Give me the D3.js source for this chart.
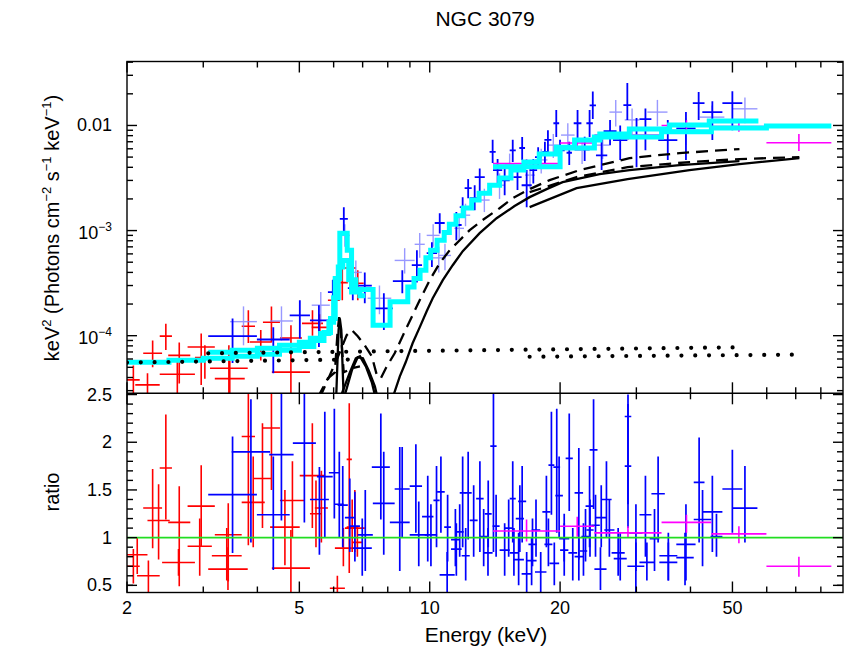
<!DOCTYPE html>
<html><head><meta charset="utf-8">
<script src="https://cdn.jsdelivr.net/npm/d3@7"></script>
<style>body{margin:0;background:#fff}svg{display:block}text{font-family:"Liberation Sans",Arial,Helvetica,sans-serif;fill:#000}</style>
</head><body>
<svg id="c" width="845" height="648"></svg>
<script>
// ---------------- DATA ----------------
// [Elo, Ehi, value, lowErr, highErr]  (keV, keV^2 photons cm^-2 s^-1 keV^-1)
const xmmTop = [
[2.00,2.14,3.8e-5,2.6e-5,5.2e-5],[2.09,2.38,3.4e-5,2.5e-5,4.4e-5],[2.18,2.41,6.8e-5,5.0e-5,9.0e-5],
[2.38,2.54,9.9e-5,7.3e-5,1.3e-4],[2.49,2.80,6.5e-5,3.5e-5,8.6e-5],[2.38,2.87,4.3e-5,2.5e-5,5.8e-5],
[2.76,3.19,7.8e-5,3.4e-5,1.05e-4],[2.87,3.19,6.2e-5,3.9e-5,8.1e-5],[3.11,3.80,4.9e-5,2.5e-5,8.1e-5],
[3.19,3.74,3.9e-5,2.5e-5,5.8e-5],[3.68,3.95,1.23e-4,8.5e-5,1.75e-4],[3.84,4.32,8.7e-5,5.8e-5,1.13e-4],
[4.12,4.51,1.34e-4,8.7e-5,1.9e-4],[4.32,5.29,4.5e-5,2.5e-5,7.3e-5],[4.51,5.07,9.5e-5,7.3e-5,1.26e-4],
[5.07,5.67,1.31e-4,1.0e-4,1.75e-4],[5.34,5.82,1.2e-4,8.7e-5,1.6e-4],[5.82,6.20,2.17e-4,1.4e-4,3.4e-4],
[6.10,6.47,3.2e-4,2.17e-4,4.7e-4],[6.37,6.75,4.4e-4,2.7e-4,6.5e-4],[6.61,7.04,3.15e-4,2.17e-4,4.2e-4]
];
const fpmaTop = [
[3.08,3.99,9.9e-5,5.5e-5,1.46e-4],[3.99,4.75,9.2e-5,4.4e-5,1.2e-4],[4.75,5.29,1.56e-4,9.4e-5,2.17e-4],
[5.29,5.82,1.4e-4,7.8e-5,1.95e-4],[5.82,6.13,2.6e-4,1.86e-4,3.4e-4],[6.20,6.47,1.29e-3,9.4e-4,1.67e-3],
[6.47,6.82,2.83e-4,2.17e-4,3.76e-4],[6.82,7.35,3.0e-4,2.03e-4,4.0e-4],[7.47,8.22,1.82e-4,1.13e-4,2.53e-4],
[8.22,9.09,3.3e-4,2.53e-4,4.2e-4],[9.09,9.60,4.7e-4,3.2e-4,6.5e-4],[9.84,10.4,6.1e-4,4.5e-4,7.75e-4],
[10.27,10.83,1.18e-3,9.4e-4,1.46e-3],[11.2,11.85,1.13e-3,8.1e-4,1.5e-3],[11.73,12.1,1.67e-3,1.34e-3,2.07e-3],
[12.04,12.5,2.53e-3,2.03e-3,3.1e-3],[12.7,13.4,3.23e-3,2.3e-3,3.9e-3],[12.37,13.04,2.03e-3,1.56e-3,2.7e-3],
[13.75,14.2,5.6e-3,4.4e-3,7.3e-3],[14.0,14.7,3.76e-3,2.8e-3,4.8e-3],[14.5,15.3,3.0e-3,2.17e-3,3.9e-3],
[15.3,15.8,5.8e-3,4.5e-3,7.3e-3],[15.6,16.3,3.23e-3,2.43e-3,4.2e-3],[16.1,16.6,6.1e-3,4.7e-3,7.75e-3],
[16.3,17.2,2.7e-3,1.67e-3,3.76e-3],[17.0,17.7,3.76e-3,2.8e-3,4.8e-3],[17.5,18.1,5.0e-3,3.9e-3,6.2e-3],
[18.2,18.7,5.6e-3,4.3e-3,7.0e-3],[18.4,19.1,7.3e-3,5.5e-3,9.0e-3],[19.3,19.9,1.05e-2,7.75e-3,1.4e-2],
[19.5,20.5,5.8e-3,4.4e-3,7.3e-3],[20.7,21.3,5.5e-3,4.2e-3,7.0e-3],[21.5,22.4,1.05e-2,7.6e-3,1.4e-2],
[22.2,23.4,6.1e-3,4.6e-3,7.8e-3],[23.0,23.8,1.05e-2,7.75e-3,1.4e-2],[23.4,24.2,1.55e-2,1.15e-2,2.1e-2],
[24.2,25.7,5.2e-3,3.76e-3,7.3e-3],[25.2,27.0,8.85e-3,6.5e-3,1.13e-2],[26.5,28.6,7.26e-3,4.7e-3,1.0e-2],
[28.0,29.2,1.56e-2,1.13e-2,2.53e-2],[28.9,31.2,7.75e-3,4.0e-3,1.18e-2],[30.5,32.5,1.15e-2,5.8e-3,1.45e-2],
[33.7,37.3,7.26e-3,4.7e-3,1.13e-2],[37.1,41.1,9.4e-3,4.7e-3,1.34e-2],[40.5,43.1,1.63e-2,1.13e-2,2.08e-2],
[42.6,47.4,1.34e-2,7.26e-3,1.7e-2],[47.4,52.7,1.63e-2,9.0e-3,2.12e-2]
];
const fpmbTop = [
[3.46,3.99,1.36e-4,8.1e-5,1.9e-4],[4.28,4.83,1.38e-4,9.0e-5,1.9e-4],[5.34,5.88,1.95e-4,1.3e-4,2.6e-4],
[6.20,6.54,9.0e-4,7.0e-4,1.15e-3],[6.54,6.97,4.0e-4,3.0e-4,5.2e-4],[7.19,8.15,2.27e-4,1.6e-4,3.0e-4],
[8.30,9.23,5.2e-4,3.9e-4,6.8e-4],[9.23,9.74,7.4e-4,5.5e-4,9.5e-4],[9.84,10.54,9.0e-4,7.0e-4,1.15e-3],
[10.1,10.9,5.5e-4,4.0e-4,7.0e-4],[10.5,11.2,5.8e-4,4.2e-4,7.5e-4],[11.4,12.0,1.05e-3,8.0e-4,1.35e-3],
[11.8,12.4,1.4e-3,1.1e-3,1.8e-3],[13.0,13.75,1.95e-3,1.5e-3,2.5e-3],[14.1,14.9,2.7e-3,2.0e-3,3.5e-3],
[14.9,15.7,4.2e-3,3.2e-3,5.4e-3],[16.6,17.5,3.37e-3,2.5e-3,4.4e-3],[17.5,18.7,4.7e-3,3.5e-3,6.0e-3],
[18.7,19.9,6.5e-3,4.9e-3,8.3e-3],[20.1,21.6,8.1e-3,6.2e-3,1.05e-2],[21.6,23.4,5.8e-3,4.3e-3,7.6e-3],
[24.2,26.0,6.5e-3,4.8e-3,8.5e-3],[26.0,27.8,1.34e-2,9.8e-3,1.75e-2],[28.2,30.5,1.13e-2,8.2e-3,1.45e-2],
[31.8,35.4,1.34e-2,9.8e-3,1.75e-2],[36.2,42.0,9.0e-3,6.5e-3,1.18e-2],[42.0,47.9,1.2e-2,8.8e-3,1.55e-2],
[50.0,57.1,1.44e-2,1.05e-2,1.85e-2]
];
const batTop = [
[14.0,20.0,4.33e-3,3.9e-3,4.8e-3],[20.0,24.0,6.8e-3,6.1e-3,7.5e-3],[24.0,34.3,8.1e-3,7.3e-3,9.0e-3],
[34.3,44.7,1.0e-2,8.9e-3,1.12e-2],[44.7,59.9,9.76e-3,8.7e-3,1.08e-2],[59.9,84.6,6.84e-3,5.7e-3,8.3e-3]
];
// ratio panel: [Elo, Ehi, ratio, low, high]
const xmmRatio = [
[2.00,2.23,0.82,0.62,1.00],[2.00,2.14,0.70,0.52,0.88],[2.11,2.38,0.60,0.42,0.76],[2.18,2.41,1.31,0.89,1.72],
[2.23,2.51,1.18,0.77,1.56],[2.38,2.54,1.73,1.19,2.29],[2.49,2.80,1.16,0.49,1.54],[2.41,2.87,0.74,0.60,0.88],
[2.76,3.19,1.33,0.91,1.76],[2.76,3.14,0.91,0.60,1.20],[3.19,3.68,1.03,0.54,1.36],[3.14,3.68,0.81,0.55,1.10],
[3.08,3.80,0.67,0.45,0.90],[3.68,3.95,2.06,0.92,2.60],[3.68,4.16,1.37,0.90,1.85],[3.91,4.32,1.62,1.10,2.20],
[4.12,4.51,2.15,1.50,2.70],[4.28,5.01,1.11,0.71,1.50],[4.32,5.29,0.68,0.42,1.08],[4.51,5.15,1.39,1.00,1.80],
[5.01,5.73,1.65,1.10,2.20],[5.29,5.64,1.25,0.90,1.60],[5.43,5.82,1.31,0.95,1.70],[5.88,6.37,0.47,0.35,0.60],
[6.04,6.61,0.89,0.70,1.10],[6.43,6.61,1.82,0.63,2.41],[6.43,6.82,1.11,0.85,1.40],[6.37,7.08,1.10,0.85,1.50],
[6.61,7.01,0.95,0.80,1.12]
];
const nuRatio = [
[3.08,3.99,1.45,0.84,2.06],[3.49,4.28,1.90,0.95,2.45],[3.99,4.75,1.24,0.66,1.85],[4.26,4.85,1.87,1.18,2.55],
[4.83,5.46,1.99,1.16,2.55],[5.29,5.85,1.40,0.82,1.74],[5.49,5.97,1.64,1.00,2.32],[5.85,6.20,1.68,1.20,2.35],
[6.04,6.33,1.35,1.00,1.90],[6.13,6.47,1.34,0.90,1.75],[6.37,6.71,1.21,0.85,1.62],[6.54,6.90,1.12,0.75,1.48],
[6.82,7.39,1.03,0.65,1.50],[6.64,7.35,0.89,0.60,1.20],[7.35,8.09,1.74,1.19,2.30],[7.39,8.30,1.36,0.82,1.90],
[8.09,8.99,1.16,0.65,1.95],[8.30,8.99,1.51,1.00,1.95],[8.99,9.60,1.54,1.05,1.98],[8.99,9.90,1.03,0.70,1.38],
[9.60,10.2,1.22,0.75,1.65],[9.74,10.4,1.03,0.70,1.35],[10.2,10.54,1.39,0.90,1.75],[10.4,10.83,1.48,1.05,1.85],
[10.8,11.2,1.11,0.75,1.45],[10.54,11.42,0.61,0.30,0.85],[11.2,11.73,0.98,0.70,1.30],[11.2,11.85,0.88,0.60,1.15],
[11.48,11.98,1.06,0.80,1.35],[11.73,12.1,1.47,0.90,1.85],[11.85,12.37,0.81,0.55,1.10],[12.04,12.5,1.47,0.98,1.90],
[12.37,12.9,1.18,0.80,1.55],[12.8,13.32,1.41,0.85,1.80],[13.04,13.61,1.01,0.70,1.30],[13.4,13.9,1.25,0.90,1.60],
[13.3,13.97,0.84,0.60,1.10],[13.8,14.27,1.96,0.85,2.52],[13.97,14.5,1.12,0.80,1.45],[14.5,15.3,0.87,0.60,1.15],
[14.9,15.54,1.10,0.80,1.40],[15.3,15.8,1.41,0.95,1.80],[15.3,16.0,0.84,0.60,1.10],[15.8,16.5,1.20,0.85,1.55],
[16.0,16.7,1.38,0.95,1.75],[15.6,16.5,0.77,0.50,1.05],[16.3,17.2,0.62,0.43,0.85],[16.74,17.65,0.76,0.50,1.00],
[16.9,17.65,0.93,0.70,1.20],[17.2,18.0,1.08,0.80,1.40],[17.5,18.6,0.64,0.43,0.85],[18.2,19.0,1.27,0.90,1.65],
[18.4,19.2,0.93,0.70,1.20],[18.8,19.4,1.76,1.24,2.32],[18.9,19.9,0.73,0.50,0.95],[19.3,20.0,1.74,1.05,2.35],
[19.5,20.3,1.44,1.00,1.85],[19.9,21.0,0.99,0.75,1.25],[20.0,20.9,0.87,0.60,1.15],[20.6,21.4,1.83,1.28,2.30],
[20.9,21.9,0.84,0.55,1.10],[21.6,22.6,1.47,0.77,1.94],[21.6,22.6,0.80,0.55,1.00],[22.2,23.1,0.86,0.60,1.15],
[22.4,23.4,1.01,0.75,1.30],[22.9,23.9,1.33,0.90,1.75],[23.0,23.9,1.08,0.80,1.40],[23.4,24.4,1.92,1.30,2.45],
[23.6,24.7,1.13,0.80,1.45],[24.2,25.6,1.21,0.90,1.55],[24.0,25.6,0.67,0.45,0.90],[24.9,26.3,1.40,1.00,1.80],
[25.3,26.7,1.08,0.80,1.40],[26.3,28.2,0.84,0.60,1.10],[26.6,28.5,0.78,0.55,1.05],[28.2,29.2,2.27,1.35,2.50],
[28.2,29.2,1.75,1.10,2.40],[28.9,31.0,1.05,0.65,1.35],[28.6,31.3,0.70,0.43,0.95],[30.5,32.5,1.24,0.80,1.65],
[30.5,33.0,0.74,0.55,0.95],[32.2,33.9,0.99,0.65,1.30],[32.5,34.9,1.46,0.95,1.85],[33.9,37.3,0.81,0.55,1.05],
[33.9,37.3,0.74,0.55,0.95],[37.1,41.1,0.93,0.55,1.35],[37.1,40.7,0.79,0.50,1.05],[40.7,43.1,1.58,0.95,2.05],
[40.7,44.7,1.19,0.70,1.50],[42.6,47.4,1.27,0.85,1.65],[44.5,47.4,1.01,0.80,1.25],[47.4,52.7,1.51,1.05,1.92],
[50.0,57.1,1.31,0.95,1.75]
];
const batRatio = [
[14.0,20.0,1.07,0.96,1.19],[20.0,24.0,1.12,1.01,1.22],[24.0,34.3,1.05,1.00,1.12],
[34.3,44.7,1.16,1.05,1.24],[44.7,59.9,1.04,0.94,1.12],[59.9,84.6,0.70,0.59,0.80]
];
// folded models (histogram steps): [Elo, Ehi, value]
const xmmModel = [
[2.0,2.5,5.58e-5],[2.5,3.0,5.83e-5],[3.0,3.5,6.1e-5],[3.5,4.0,6.36e-5],[4.0,4.5,6.65e-5],[4.5,5.0,7.26e-5],
[5.0,5.4,7.9e-5],[5.4,5.7,9.0e-5],[5.7,5.9,1.07e-4],[5.9,6.05,1.46e-4],[6.05,6.2,3.5e-4],[6.2,6.45,9.44e-4],
[6.45,6.6,6.5e-4],[6.6,6.9,2.6e-4],[6.9,7.1,2.4e-4]
];
const nuModel = [
[3.08,3.5,6.95e-5],[3.5,4.0,7.26e-5],[4.0,4.5,7.6e-5],[4.5,5.0,8.1e-5],[5.0,5.3,8.65e-5],[5.3,5.6,9.44e-5],
[5.6,5.85,1.05e-4],[5.85,6.0,1.34e-4],[6.0,6.15,2.3e-4],[6.15,6.3,4.5e-4],[6.3,6.5,5.2e-4],[6.5,6.75,3.4e-4],
[6.75,7.4,2.75e-4],[7.4,8.1,1.26e-4],[8.1,8.9,2.1e-4],[8.9,9.2,2.9e-4],[9.2,9.5,3.5e-4],[9.5,9.8,4.2e-4],
[9.8,10.05,5.5e-4],[10.05,10.4,6.5e-4],[10.4,10.8,8.1e-4],[10.8,11.1,9.6e-4],[11.1,11.5,1.15e-3],
[11.5,11.95,1.38e-3],[11.95,12.5,1.64e-3],[12.5,13.0,1.95e-3],[13.0,13.75,2.27e-3],[13.75,14.5,2.7e-3],
[14.5,15.4,3.16e-3],[15.4,16.5,3.76e-3],[16.5,17.9,4.48e-3],[17.9,19.6,5.35e-3],[19.6,21.6,6.2e-3],
[21.6,24.7,7.26e-3],[24.7,28.9,8.3e-3],[28.9,35.8,9.24e-3],[35.8,44.2,1.01e-2],[44.2,57.4,1.1e-2]
];
const batModel = [
[14.0,20.0,4.04e-3],[20.0,24.0,6.1e-3],[24.0,34.3,7.75e-3],[34.3,44.7,8.7e-3],[44.7,59.9,9.45e-3],[59.9,84.6,9.87e-3]
];
// model components: [E, value]
const nuTrans = [[8.22,2.6e-5],[8.53,4.1e-5],[8.80,5.58e-5],[9.13,8.47e-5],[9.48,1.2e-4],[9.84,1.71e-4],[10.16,2.27e-4],
[10.72,3.37e-4],[11.30,4.68e-4],[11.92,6.37e-4],[13.04,9.44e-4],[14.27,1.31e-3],[15.70,1.71e-3],[17.01,2.08e-3],
[18.62,2.48e-3],[20.27,2.89e-3],[24.68,3.44e-3],[28.93,3.76e-3],[37.73,4.2e-3],[51.9,4.58e-3]];
const batTrans = [[17.01,1.67e-3],[21.83,2.53e-3],[28.63,3.09e-3],[39.79,3.76e-3],[51.9,4.29e-3],[71.36,4.89e-3]];
const nuRefl = [[5.58,2.6e-5],[5.88,4.2e-5],[6.20,6.95e-5],[6.43,1.01e-4],[6.61,1.13e-4],[6.82,9.86e-5],[7.08,8.1e-5],
[7.35,6.36e-5],[7.55,4.2e-5],[7.71,3.93e-5],[7.94,5.0e-5],[8.30,6.8e-5],[8.85,1.2e-4],[9.48,2.17e-4],[10.0,3.37e-4],
[10.54,4.89e-4],[11.12,6.5e-4],[11.73,8.1e-4],[12.37,1.01e-3],[13.25,1.26e-3],[14.50,1.63e-3],[15.54,2.03e-3],
[17.01,2.48e-3],[18.92,3.02e-3],[22.18,3.76e-3],[28.93,4.89e-3],[37.73,5.46e-3],[51.9,5.96e-3]];
const batRefl = [[17.01,2.32e-3],[21.83,3.23e-3],[28.63,4.02e-3],[39.79,4.48e-3],[51.9,4.79e-3],[71.36,5.0e-3]];
const xmmRefl = [[5.52,2.6e-5],[5.82,3.93e-5],[6.04,4.48e-5],[6.13,1.13e-4],[6.18,1.5e-4],[6.23,1.13e-4],[6.33,4.48e-5],
[6.61,4.89e-5],[6.90,5.1e-5]];
const nuGaussA = [[6.20,2.5e-5],[6.54,4.48e-5],[6.75,6.1e-5],[6.90,6.36e-5],[7.12,5.1e-5],[7.35,3.6e-5],[7.51,2.5e-5]];
const nuGaussB = [[6.33,2.5e-5],[6.61,4.68e-5],[6.82,6.23e-5],[7.01,6.1e-5],[7.23,4.68e-5],[7.47,3.3e-5],[7.59,2.5e-5]];
const xmmGauss = [[6.08,2.5e-5],[6.16,1.13e-4],[6.20,1.46e-4],[6.25,1.13e-4],[6.33,2.5e-5]];
const xmmScat = [[2.0,5.55e-5],[6.9,5.95e-5]];
const nuScat = [[3.08,6.8e-5],[51.9,7.75e-5]];
const batScat = [[17.01,6.3e-5],[71.36,6.6e-5]];
// ticks
const xMajor = [2,5,10,20,50];
const xMinor = [3,4,6,7,8,9,30,40,60,70,80];
const yTopMajor = [1e-4,1e-3,1e-2];
const yTopLabels = [["10","\u22124"],["10","\u22123"],["0.01",null]];
const yTopMinor = [3e-5,4e-5,5e-5,6e-5,7e-5,8e-5,9e-5,2e-4,3e-4,4e-4,5e-4,6e-4,7e-4,8e-4,9e-4,
  2e-3,3e-3,4e-3,5e-3,6e-3,7e-3,8e-3,9e-3,2e-2,3e-2,4e-2];
const rMajor = [0.5,1,1.5,2,2.5];
const rLabels = ["0.5","1","1.5","2","2.5"];
const rMinor = [0.5,0.6,0.7,0.8,0.9,1.1,1.2,1.3,1.4,1.6,1.7,1.8,1.9,2.1,2.2,2.3,2.4];

// ---------------- LAYOUT ----------------
const L=127, R=843, T=61.5, M=393.3, B=592.5;
const svg = d3.select('#c');
const x = d3.scaleLog().domain([2,90]).range([L,R]);
const yT = d3.scaleLog().domain([2.83e-5,0.0406]).range([M,T]);
const yR = d3.scaleLinear().domain([0.425,2.513]).range([B,M]);

const defs = svg.append('defs');
defs.append('clipPath').attr('id','clipT').append('rect').attr('x',L).attr('y',T).attr('width',R-L).attr('height',M-T);
defs.append('clipPath').attr('id','clipR').append('rect').attr('x',L).attr('y',M).attr('width',R-L).attr('height',B-M);

const gT = svg.append('g').attr('clip-path','url(#clipT)');
const gR = svg.append('g').attr('clip-path','url(#clipR)');

function crosses(g, data, ys, color, w, op){
  const s = g.append('g').attr('stroke',color).attr('stroke-width',w).attr('opacity',op||1);
  s.selectAll('.h').data(data).enter().append('line')
    .attr('x1',d=>x(d[0])).attr('x2',d=>x(d[1])).attr('y1',d=>ys(d[2])).attr('y2',d=>ys(d[2]));
  s.selectAll('.v').data(data).enter().append('line')
    .attr('x1',d=>x(Math.sqrt(d[0]*d[1]))).attr('x2',d=>x(Math.sqrt(d[0]*d[1])))
    .attr('y1',d=>ys(Math.max(d[3],1e-9))).attr('y2',d=>ys(d[4]));
}
function stepPath(bins){
  let p='';
  bins.forEach((b,i)=>{ const yy=yT(b[2]); p+=(i?'L':'M')+x(b[0])+','+yy+'L'+x(b[1])+','+yy; });
  return p;
}
const line = d3.line().x(d=>x(d[0])).y(d=>yT(d[1]));

// top panel data
crosses(gT, xmmTop, yT, '#ff0000', 1.6);
crosses(gT, fpmbTop, yT, '#7f7fff', 1.4, 0.8);
crosses(gT, fpmaTop, yT, '#0000ff', 1.8);
crosses(gT, batTop, yT, '#ff00ff', 1.6);
// models
[xmmModel, nuModel, batModel].forEach(m=>{
  gT.append('path').attr('d',stepPath(m)).attr('fill','none').attr('stroke','#00ffff').attr('stroke-width',5).attr('stroke-linejoin','miter');
});
// components
const comp = gT.append('g').attr('fill','none').attr('stroke','#000');
[nuTrans, batTrans, nuGaussA, nuGaussB, xmmGauss].forEach(c=>comp.append('path').attr('d',line(c)).attr('stroke-width',2.3));
[nuRefl, batRefl, xmmRefl].forEach(c=>comp.append('path').attr('d',line(c)).attr('stroke-width',2.3).attr('stroke-dasharray','12,7'));
[xmmScat, nuScat, batScat].forEach(c=>comp.append('path').attr('d',line(c)).attr('stroke-width',4.2)
  .attr('stroke-dasharray','0,13.8').attr('stroke-linecap','round'));

// ratio panel
crosses(gR, xmmRatio, yR, '#ff0000', 1.6);
crosses(gR, nuRatio, yR, '#0000ff', 1.7);
crosses(gR, batRatio, yR, '#ff00ff', 1.6);
gR.append('line').attr('x1',L).attr('x2',R).attr('y1',yR(1)).attr('y2',yR(1)).attr('stroke','#22dd22').attr('stroke-width',1.8);

// ---------------- AXES ----------------
const ax = svg.append('g').attr('stroke','#000').attr('stroke-width',1.4);
ax.append('rect').attr('x',L).attr('y',T).attr('width',R-L).attr('height',B-T).attr('fill','none');
ax.append('line').attr('x1',L).attr('x2',R).attr('y1',M).attr('y2',M);
function xt(v,len){
  const xx=x(v);
  [[T,1],[M,-1],[M,1],[B,-1]].forEach(([y0,dir])=>ax.append('line').attr('x1',xx).attr('x2',xx).attr('y1',y0).attr('y2',y0+dir*len));
}
xMajor.forEach(v=>xt(v,11)); xMinor.forEach(v=>xt(v,6));
function yt(yy,len){
  ax.append('line').attr('x1',L).attr('x2',L+len).attr('y1',yy).attr('y2',yy);
  ax.append('line').attr('x1',R).attr('x2',R-len).attr('y1',yy).attr('y2',yy);
}
yTopMajor.forEach(v=>yt(yT(v),10)); yTopMinor.forEach(v=>yt(yT(v),6));
rMajor.forEach(v=>yt(yR(v),10)); rMinor.forEach(v=>yt(yR(v),6));

// labels
const fs=18;
xMajor.forEach(v=>svg.append('text').attr('x',x(v)).attr('y',614).attr('text-anchor','middle').attr('font-size',fs).text(v));
yTopMajor.forEach((v,i)=>{
  const lab=yTopLabels[i];
  const t=svg.append('text').attr('x',112).attr('y',yT(v)+6).attr('text-anchor','end').attr('font-size',fs);
  if(lab[1]===null){ t.text(lab[0]); }
  else { t.attr('y',yT(v)+8); t.append('tspan').text(lab[0]); t.append('tspan').attr('dy',-8).attr('font-size',12).text(lab[1]); }
});
rMajor.forEach((v,i)=>svg.append('text').attr('x',112).attr('y',yR(v)+6).attr('text-anchor','end').attr('font-size',fs).text(rLabels[i]));

svg.append('text').attr('x',485).attr('y',26).attr('text-anchor','middle').attr('font-size',21).text('NGC 3079');
svg.append('text').attr('x',486).attr('y',642).attr('text-anchor','middle').attr('font-size',21).text('Energy (keV)');
svg.append('text').attr('transform','translate(59,492) rotate(-90)').attr('text-anchor','middle').attr('font-size',20).text('ratio');
const yl = svg.append('text').attr('transform','translate(59,228) rotate(-90)').attr('text-anchor','middle').attr('font-size',20);
const parts=[['keV',0],['2',1],[' (Photons cm',0],['\u22122',1],[' s',0],['\u22121',1],[' keV',0],['\u22121',1],[')',0]];
let prev=0;
parts.forEach(([s,sup])=>{
  const t=yl.append('tspan').text(s);
  if(sup){ t.attr('font-size',13).attr('dy',prev? 0 : -8); prev=1; }
  else { if(prev) t.attr('dy',8); prev=0; }
});
</script>
</body></html>
